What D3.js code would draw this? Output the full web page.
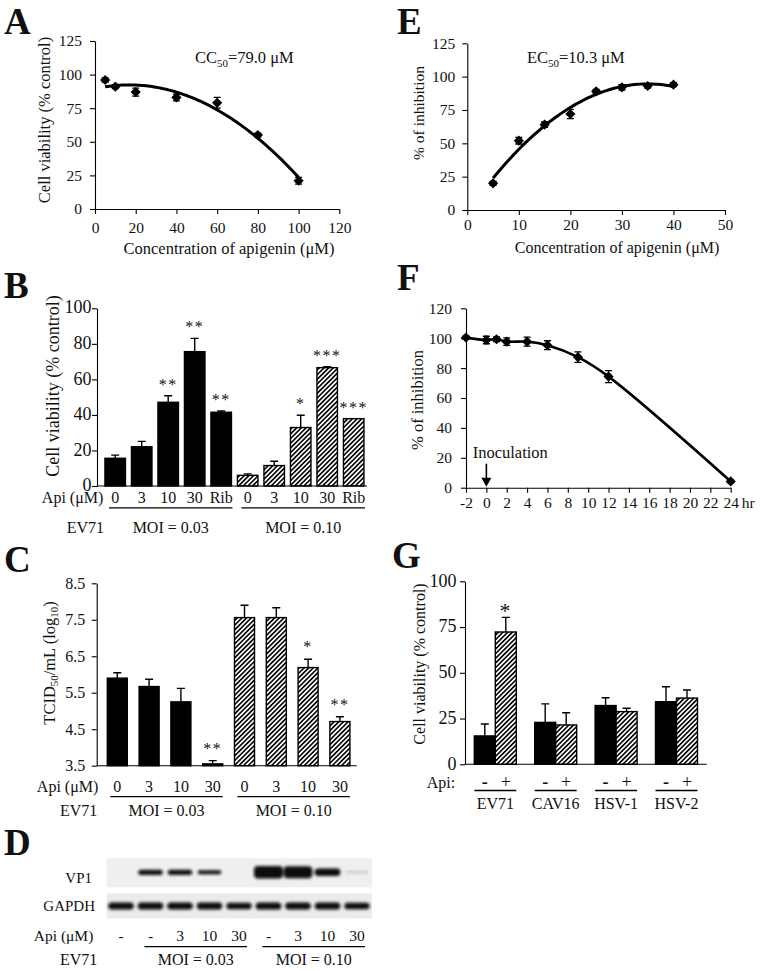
<!DOCTYPE html>
<html><head><meta charset="utf-8">
<script src="https://cdn.jsdelivr.net/npm/d3@7"></script>
<style>
html,body{margin:0;padding:0;background:#fff;}
svg{display:block;}
text{font-family:"Liberation Serif","Times New Roman",serif;fill:#111;}
</style></head><body>
<svg id="fig" width="762" height="971"></svg>
<script>
// ---------------- DATA ----------------
// Panel A: cytotoxicity
const aConc = [5, 10, 20, 40, 60, 80, 100];
const aViability = [96, 91, 87, 83, 79, 55, 21];
const aSD = [1.5, 1.5, 3, 2.5, 4, 1.5, 2.5];
const aTicksX = [0, 20, 40, 60, 80, 100, 120];
const aTicksY = [0, 25, 50, 75, 100, 125];

// Panel E: antiviral inhibition
const eConc = [5, 10, 15, 20, 25, 30, 35, 40];
const eInhibition = [20, 52, 64, 72, 89, 92, 93, 94];
const eSD = [1.5, 2.5, 2, 3.5, 1.5, 2, 1.5, 1.5];
const eTicksX = [0, 10, 20, 30, 40, 50];
const eTicksY = [0, 25, 50, 75, 100, 125];

// Panel F: time of addition
const fTime = [-2, 0, 1, 2, 4, 6, 9, 12, 24];
const fInhibition = [100.4, 98.8, 99.3, 97.7, 97.7, 95.3, 87.3, 74.3, 4.2];
const fSD = [1, 2.5, 1.5, 2.5, 3, 3, 3.5, 4, 1];
const fTicksX = [-2, 0, 2, 4, 6, 8, 10, 12, 14, 16, 18, 20, 22, 24];
const fTicksY = [0, 20, 40, 60, 80, 100, 120];

// Panel B: cell viability bars
const bDoses = ["0", "3", "10", "30", "Rib"];
const bGroups = ["MOI = 0.03", "MOI = 0.10"];
const bLow = [15.6, 22.1, 47.1, 75.6, 41.5];
const bLowSD = [1.8, 3, 3.7, 7.5, 0.7];
const bHigh = [6.0, 11.5, 32.9, 66.6, 37.9];
const bHighSD = [0.8, 2.4, 6.9, 0.6, 0];
const bLowSig = ["", "", "**", "**", "**"];
const bHighSig = ["", "", "*", "***", "***"];
const bTicksY = [0, 20, 40, 60, 80, 100];

// Panel C: virus titre
const cDoses = ["0", "3", "10", "30"];
const cGroups = ["MOI = 0.03", "MOI = 0.10"];
const cLow = [5.90, 5.67, 5.25, 3.55];
const cLowSD = [0.15, 0.20, 0.37, 0.09];
const cHigh = [7.56, 7.56, 6.19, 4.71];
const cHighSD = [0.34, 0.27, 0.23, 0.13];
const cLowSig = ["", "", "", "**"];
const cHighSig = ["", "", "*", "**"];
const cTicksY = [3.5, 4.5, 5.5, 6.5, 7.5, 8.5];

// Panel G: other viruses
const gViruses = ["EV71", "CAV16", "HSV-1", "HSV-2"];
const gApiLabels = ["-", "+"];
const gNoApi = [15.5, 22.9, 32.1, 34.2];
const gNoApiSD = [6.5, 10.1, 4.3, 8.2];
const gApi = [72.3, 21.5, 28.8, 36.2];
const gApiSD = [8.0, 6.7, 1.8, 4.4];
const gSig = ["*", "", "", ""];
const gTicksY = [0, 25, 50, 75, 100];

// Panel D: western blot (relative band intensity)
const dLanes = ["-", "-", "3", "10", "30", "-", "3", "10", "30"];
const dVP1 = [0, 0.35, 0.35, 0.22, 0, 1, 0.95, 0.55, 0.04];
const dGAPDH = [0.5, 0.5, 0.5, 0.48, 0.45, 0.52, 0.5, 0.5, 0.45];
const dMOI = ["MOI = 0.03", "MOI = 0.10"];

// ---------------- HELPERS ----------------
const SERIF = '"Liberation Serif","Times New Roman",serif';
const svg = d3.select("#fig");
svg.append("rect").attr("width", 762).attr("height", 971).attr("fill", "#fff");
const defs = svg.append("defs");
const pat = defs.append("pattern").attr("id", "hatch").attr("patternUnits", "userSpaceOnUse")
  .attr("width", 3.3).attr("height", 3.3).attr("patternTransform", "rotate(45)");
pat.append("rect").attr("width", 3.3).attr("height", 3.3).attr("fill", "#fff");
pat.append("line").attr("x1", 0.8).attr("y1", 0).attr("x2", 0.8).attr("y2", 3.3)
  .attr("stroke", "#000").attr("stroke-width", 1.6);
defs.append("filter").attr("id", "blur").attr("x", "-30%").attr("y", "-100%").attr("width", "160%").attr("height", "300%")
  .append("feGaussianBlur").attr("stdDeviation", 1.4);

function styleAxis(g, fs) {
  g.attr("font-family", SERIF).attr("font-size", fs);
  g.select(".domain").attr("stroke", "#000").attr("stroke-width", 1.1);
  g.selectAll(".tick line").attr("stroke", "#000").attr("stroke-width", 1.1);
  g.selectAll(".tick text").attr("fill", "#111");
}
function letter(x, y, s) {
  svg.append("text").attr("x", x).attr("y", y).attr("font-size", 37).attr("font-weight", "bold").text(s);
}
function label(parent, x, y, s, fs, anchor) {
  return parent.append("text").attr("x", x).attr("y", y).attr("font-size", fs)
    .attr("text-anchor", anchor || "start").text(s);
}
function yTitle(parent, cx, cy, fs) {
  return parent.append("text").attr("transform", `translate(${cx},${cy}) rotate(-90)`)
    .attr("text-anchor", "middle").attr("font-size", fs);
}
function sub(t, s, fs) {
  t.append("tspan").attr("font-size", fs * 0.66).attr("dy", fs * 0.22).text(s);
  return t.append("tspan").attr("font-size", fs).attr("dy", -fs * 0.22);
}
function quadFit(xs, ys) {
  const S = [[0,0,0],[0,0,0],[0,0,0]], T = [0,0,0];
  xs.forEach((x, i) => {
    const p = [1, x, x * x];
    for (let r = 0; r < 3; r++) { T[r] += p[r] * ys[i]; for (let c = 0; c < 3; c++) S[r][c] += p[r] * p[c]; }
  });
  const M = S.map((row, i) => row.concat([T[i]]));
  for (let i = 0; i < 3; i++) {
    for (let k = i + 1; k < 3; k++) {
      const f = M[k][i] / M[i][i];
      for (let j = i; j < 4; j++) M[k][j] -= f * M[i][j];
    }
  }
  const c = [0,0,0];
  for (let i = 2; i >= 0; i--) {
    let s = M[i][3];
    for (let j = i + 1; j < 3; j++) s -= M[i][j] * c[j];
    c[i] = s / M[i][i];
  }
  return x => c[0] + c[1] * x + c[2] * x * x;
}
const diamondPath = d3.symbol(d3.symbolSquare, 52)();
function scatterPanel(g, xs, ys, sds, x, y, cap) {
  const eb = g.append("g").attr("stroke", "#000").attr("stroke-width", 1.3).attr("fill", "none");
  xs.forEach((xv, i) => {
    const px = x(xv), y0 = y(ys[i] - sds[i]), y1 = y(ys[i] + sds[i]);
    eb.append("path").attr("d", `M${px},${y0}V${y1}M${px - cap},${y0}H${px + cap}M${px - cap},${y1}H${px + cap}`);
  });
  g.append("g").selectAll("path").data(xs).join("path")
    .attr("d", diamondPath).attr("fill", "#000")
    .attr("transform", (d, i) => `translate(${x(d)},${y(ys[i])}) rotate(45)`);
}
function drawBars(g, rows, xPos, bw, y, capHalf, starFs, starOff) {
  const y0 = y(y.domain()[0]);
  rows.forEach(r => {
    const bx = xPos(r), top = y(r.v), cx = bx + bw / 2;
    g.append("rect").attr("x", bx).attr("y", top).attr("width", bw).attr("height", y0 - top)
      .attr("fill", r.hatch ? "url(#hatch)" : "#000").attr("stroke", "#000").attr("stroke-width", 1.4);
    let capY = top;
    if (r.sd > 0) {
      capY = y(r.v + r.sd);
      g.append("path").attr("d", `M${cx},${top}V${capY}M${cx - capHalf},${capY}H${cx + capHalf}`)
        .attr("stroke", "#000").attr("stroke-width", 1.4).attr("fill", "none");
    }
    if (r.sig) {
      g.append("text").attr("x", cx).attr("y", capY - starOff).attr("text-anchor", "middle")
        .attr("font-size", starFs).attr("letter-spacing", 1.5).text(r.sig);
    }
  });
}

// ---------------- PANEL A ----------------
{
  const g = svg.append("g");
  const x = d3.scaleLinear().domain([0, 120]).range([95, 339.3]);
  const y = d3.scaleLinear().domain([0, 125]).range([209, 41]);
  g.append("g").attr("transform", "translate(95,0)")
    .call(d3.axisLeft(y).tickValues(aTicksY).tickSize(5).tickPadding(8).tickSizeOuter(0)).call(styleAxis, 15.5);
  g.append("g").attr("transform", "translate(0,209)")
    .call(d3.axisBottom(x).tickValues(aTicksX).tickSize(5).tickPadding(8).tickSizeOuter(0)).call(styleAxis, 15.5);
  const fit = quadFit(aConc, aViability);
  const pts = d3.range(aConc[0], aConc[aConc.length - 1] + 0.01, 1).map(v => [v, fit(v)]);
  g.append("path").attr("d", d3.line().x(d => x(d[0])).y(d => y(d[1]))(pts))
    .attr("fill", "none").attr("stroke", "#000").attr("stroke-width", 3);
  scatterPanel(g, aConc, aViability, aSD, x, y, 3.5);
  const t = label(g, 195, 63, "CC", 16.5);
  sub(t, "50", 16.5).text("=79.0 μM");
  yTitle(g, 50, 120, 16.5).text("Cell viability (% control)");
  label(g, 229, 254, "Concentration of apigenin (μM)", 16.5, "middle");
  letter(4, 34, "A");
}

// ---------------- PANEL E ----------------
{
  const g = svg.append("g");
  const x = d3.scaleLinear().domain([0, 50]).range([467.3, 725]);
  const y = d3.scaleLinear().domain([0, 125]).range([210, 43.3]);
  g.append("g").attr("transform", "translate(467.3,0)")
    .call(d3.axisLeft(y).tickValues(eTicksY).tickSize(5).tickPadding(7).tickSizeOuter(0)).call(styleAxis, 15.5);
  g.append("g").attr("transform", "translate(0,210)")
    .call(d3.axisBottom(x).tickValues(eTicksX).tickSize(5).tickPadding(4).tickSizeOuter(0)).call(styleAxis, 15.5);
  const fit = quadFit(eConc, eInhibition);
  const pts = d3.range(eConc[0], eConc[eConc.length - 1] + 0.01, 0.5).map(v => [v, fit(v)]);
  g.append("path").attr("d", d3.line().x(d => x(d[0])).y(d => y(d[1]))(pts))
    .attr("fill", "none").attr("stroke", "#000").attr("stroke-width", 3);
  scatterPanel(g, eConc, eInhibition, eSD, x, y, 3.5);
  const t = label(g, 527, 63, "EC", 16.5);
  sub(t, "50", 16.5).text("=10.3 μM");
  yTitle(g, 424, 113, 15.5).text("% of inhibition");
  label(g, 617, 253, "Concentration of apigenin (μM)", 16, "middle");
  letter(397, 34, "E");
}

// ---------------- PANEL F ----------------
{
  const g = svg.append("g");
  const x = d3.scaleLinear().domain([-2, 24]).range([466, 730.7]);
  const y = d3.scaleLinear().domain([0, 120]).range([487.7, 308.3]);
  g.append("g").attr("transform", "translate(466,0)")
    .call(d3.axisLeft(y).tickValues(fTicksY).tickSize(5).tickPadding(9).tickSizeOuter(0)).call(styleAxis, 15.5);
  g.append("g").attr("transform", "translate(0,487.7)")
    .call(d3.axisBottom(x).tickValues(fTicksX).tickFormat(d => String(d)).tickSize(5).tickPadding(4.5).tickSizeOuter(0))
    .call(styleAxis, 15.5);
  label(g, x(24) + 11, 508.3, "hr", 15.5);
  const line = d3.line().curve(d3.curveCatmullRom.alpha(0.5)).x((d, i) => x(fTime[i])).y(d => y(d));
  g.append("path").attr("d", line(fInhibition)).attr("fill", "none").attr("stroke", "#000").attr("stroke-width", 2.6);
  scatterPanel(g, fTime, fInhibition, fSD, x, y, 3.5);
  // inoculation arrow
  const ax = x(0), ay = y(0);
  g.append("path").attr("d", `M${ax},${ay - 24}V${ay - 9}`).attr("stroke", "#000").attr("stroke-width", 1.6);
  g.append("path").attr("d", `M${ax - 5},${ay - 10}L${ax + 5},${ay - 10}L${ax},${ay - 1}Z`).attr("fill", "#000");
  label(g, 472.7, 457.7, "Inoculation", 16.5);
  yTitle(g, 423, 400, 16.5).text("% of inhibition");
  letter(397, 290, "F");
}

// ---------------- PANEL B ----------------
{
  const g = svg.append("g");
  const rows = [];
  bGroups.forEach((grp, gi) => bDoses.forEach((dose, di) => rows.push({
    key: grp + "|" + dose, dose, hatch: gi === 1,
    v: gi ? bHigh[di] : bLow[di], sd: gi ? bHighSD[di] : bLowSD[di], sig: gi ? bHighSig[di] : bLowSig[di]
  })));
  const x = d3.scaleBand().domain(rows.map(r => r.key)).range([101.95, 366.95]).paddingInner(0.226).paddingOuter(0.113);
  const y = d3.scaleLinear().domain([0, 100]).range([486, 308.3]);
  drawBars(g, rows, r => x(r.key), x.bandwidth(), y, 4, 16, 6);
  g.append("g").attr("transform", "translate(97,0)")
    .call(d3.axisLeft(y).tickValues(bTicksY).tickSize(5).tickPadding(0.5).tickSizeOuter(0)).call(styleAxis, 18);
  g.selectAll(".tick text").attr("dy", "0.26em");
  g.append("line").attr("x1", 97).attr("x2", x.range()[1]).attr("y1", 486).attr("y2", 486)
    .attr("stroke", "#000").attr("stroke-width", 1.1);
  rows.forEach(r => label(g, x(r.key) + x.bandwidth() / 2, 502.5, r.dose, 16, "middle"));
  label(g, 103.3, 502.5, "Api (μM)", 16, "end");
  bGroups.forEach(grp => {
    const ks = rows.filter(r => r.key.startsWith(grp + "|")).map(r => r.key);
    const x1 = x(ks[0]) + 4, x2 = x(ks[ks.length - 1]) + x.bandwidth() + 1;
    g.append("line").attr("x1", x1).attr("x2", x2).attr("y1", 507.8).attr("y2", 507.8).attr("stroke", "#000").attr("stroke-width", 1.3);
    label(g, (x1 + x2) / 2, 533, grp, 16, "middle");
  });
  label(g, 66.7, 533, "EV71", 16);
  yTitle(g, 59, 386, 18).text("Cell viability (% control)");
  letter(4, 298, "B");
}

// ---------------- PANEL C ----------------
{
  const g = svg.append("g");
  const rows = [];
  cGroups.forEach((grp, gi) => cDoses.forEach((dose, di) => rows.push({
    key: grp + "|" + dose, dose, hatch: gi === 1,
    v: gi ? cHigh[di] : cLow[di], sd: gi ? cHighSD[di] : cLowSD[di], sig: gi ? cHighSig[di] : cLowSig[di]
  })));
  const x = d3.scaleBand().domain(rows.map(r => r.key)).range([101.4, 355.8]).paddingInner(0.37).paddingOuter(0.185);
  const y = d3.scaleLinear().domain([3.5, 8.5]).range([765.7, 583.3]);
  drawBars(g, rows, r => x(r.key), x.bandwidth(), y, 4, 16, 7);
  g.append("g").attr("transform", "translate(96.7,0)")
    .call(d3.axisLeft(y).tickValues(cTicksY).tickFormat(d3.format(".1f")).tickSize(5).tickPadding(6.5).tickSizeOuter(0))
    .call(styleAxis, 16);
  g.append("line").attr("x1", 96.7).attr("x2", 356.7).attr("y1", 765.7).attr("y2", 765.7)
    .attr("stroke", "#000").attr("stroke-width", 1.1);
  rows.forEach(r => label(g, x(r.key) + x.bandwidth() / 2, 792, r.dose, 16, "middle"));
  label(g, 98.3, 792, "Api (μM)", 16, "end");
  cGroups.forEach(grp => {
    const ks = rows.filter(r => r.key.startsWith(grp + "|")).map(r => r.key);
    const x1 = x(ks[0]) + 3, x2 = x(ks[ks.length - 1]) + x.bandwidth();
    g.append("line").attr("x1", x1).attr("x2", x2).attr("y1", 796.7).attr("y2", 796.7).attr("stroke", "#000").attr("stroke-width", 1.3);
    label(g, (x1 + x2) / 2, 816, grp, 16, "middle");
  });
  label(g, 60, 816, "EV71", 16);
  const t = yTitle(g, 54.5, 663, 16.5).text("TCID");
  sub(t, "50", 16.5).text("/mL (log");
  t.append("tspan").attr("font-size", 16.5 * 0.66).attr("dy", 16.5 * 0.22).text("10");
  t.append("tspan").attr("font-size", 16.5).attr("dy", -16.5 * 0.22).text(")");
  letter(4, 572, "C");
}

// ---------------- PANEL G ----------------
{
  const g = svg.append("g");
  const subKeys = ["noApi", "api"];
  const rows = [];
  gViruses.forEach((v, i) => {
    rows.push({ virus: v, s: "noApi", hatch: false, v: gNoApi[i], sd: gNoApiSD[i], sig: "" });
    rows.push({ virus: v, s: "api", hatch: true, v: gApi[i], sd: gApiSD[i], sig: gSig[i] });
  });
  const x = d3.scaleBand().domain(gViruses).range([465.1, 706.7]).paddingInner(0.305).paddingOuter(0.1525);
  const xs = d3.scaleBand().domain(subKeys).range([0, x.bandwidth()]);
  const y = d3.scaleLinear().domain([0, 100]).range([764.3, 581.3]);
  drawBars(g, rows, r => x(r.virus) + xs(r.s), xs.bandwidth(), y, 4, 22, -1);
  g.append("g").attr("transform", "translate(465,0)")
    .call(d3.axisLeft(y).tickValues(gTicksY).tickSize(5).tickPadding(3.5).tickSizeOuter(0)).call(styleAxis, 18);
  g.selectAll(".tick text").attr("dy", "0.27em");
  g.append("line").attr("x1", 465).attr("x2", x.range()[1]).attr("y1", 764.3).attr("y2", 764.3)
    .attr("stroke", "#000").attr("stroke-width", 1.1);
  label(g, 426.7, 788, "Api:", 16);
  gViruses.forEach(v => {
    subKeys.forEach((s, si) => label(g, x(v) + xs(s) + xs.bandwidth() / 2, 787.5, gApiLabels[si], 18, "middle")
      .attr("font-weight", si === 0 ? "bold" : "normal"));
    g.append("line").attr("x1", x(v)).attr("x2", x(v) + x.bandwidth()).attr("y1", 790.5).attr("y2", 790.5)
      .attr("stroke", "#000").attr("stroke-width", 1.3);
    label(g, x(v) + x.bandwidth() / 2, 809, v, 16, "middle");
  });
  yTitle(g, 424.5, 664, 16).text("Cell viability (% control)");
  letter(392, 568, "G");
}

// ---------------- PANEL D ----------------
{
  const g = svg.append("g");
  const x = d3.scalePoint().domain(d3.range(dLanes.length)).range([121, 357]);
  const h = d3.scaleLinear().domain([0, 1]).range([1.5, 12.5]);
  const w = d3.scaleLinear().domain([0, 1]).range([22, 29]);
  const op = d3.scaleLinear().domain([0, 0.2]).range([0, 1]).clamp(true);
  const boxes = [{ name: "VP1", y0: 858.3, y1: 887.3, cy: 872.3, vals: dVP1, fill: "#efefef", ty: 883 },
                 { name: "GAPDH", y0: 893.3, y1: 918.5, cy: 906, vals: dGAPDH, fill: "#ebebeb", ty: 911 }];
  boxes.forEach(b => {
    g.append("rect").attr("x", 106.7).attr("y", b.y0).attr("width", 265.3).attr("height", b.y1 - b.y0).attr("fill", b.fill);
    const bg = g.append("g").attr("filter", "url(#blur)");
    b.vals.forEach((v, i) => {
      if (v <= 0) return;
      const hh = h(v), ww = w(v);
      bg.append("rect").attr("x", x(i) - ww / 2).attr("y", b.cy - hh / 2).attr("width", ww).attr("height", hh)
        .attr("rx", Math.min(hh / 2, 4)).attr("fill", "#0a0a0a").attr("opacity", op(v));
    });
    label(g, b.name === "VP1" ? 92 : 95, b.ty, b.name, 15, "end");
  });
  dLanes.forEach((s, i) => label(g, x(i), 941, s, 15.5, "middle"));
  label(g, 93.3, 941, "Api (μM)", 15.5, "end");
  [[1, 4], [5, 8]].forEach((rng, k) => {
    const x1 = x(rng[0]) - 6, x2 = x(rng[1]) + 8;
    g.append("line").attr("x1", x1).attr("x2", x2).attr("y1", 946.7).attr("y2", 946.7).attr("stroke", "#000").attr("stroke-width", 1.3);
    label(g, (x1 + x2) / 2, 965, dMOI[k], 16, "middle");
  });
  label(g, 60, 965, "EV71", 16);
  letter(4, 855, "D");
}
</script></body></html>
